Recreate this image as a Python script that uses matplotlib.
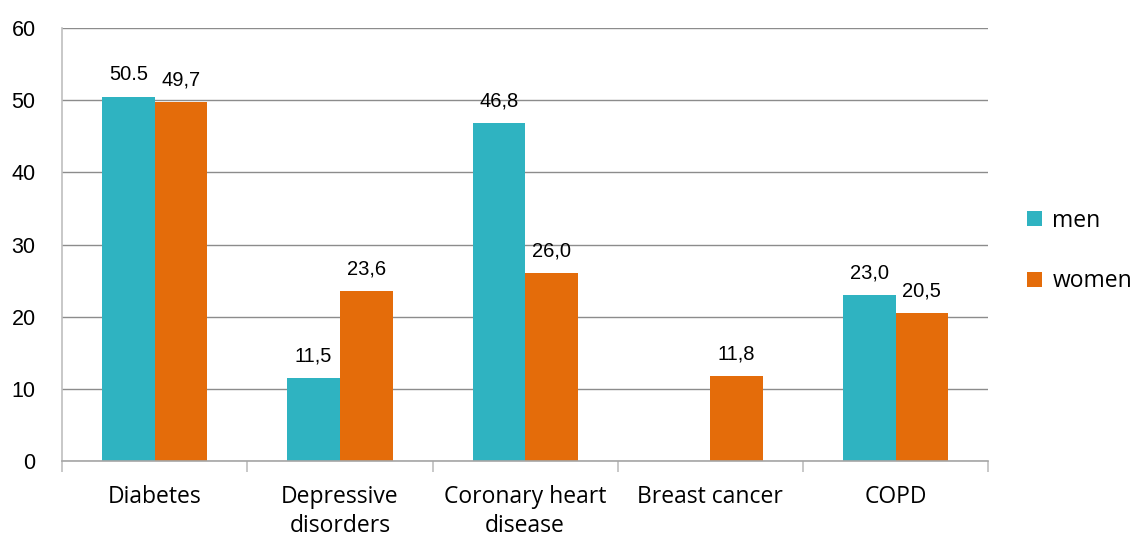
import numpy as np
import matplotlib.pyplot as plt

categories = ['Diabetes', 'Depressive\ndisorders', 'Coronary heart\ndisease', 'Breast cancer', 'COPD']
men = [50.5, 11.5, 46.8, np.nan, 23.0]
women = [49.7, 23.6, 26.0, 11.8, 20.5]
men_labels = ['50.5', '11,5', '46,8', '', '23,0']
women_labels = ['49,7', '23,6', '26,0', '11,8', '20,5']

teal = '#2FB3C1'
orange = '#E46C0A'
grid_col = '#8C8C8C'

fig = plt.figure(figsize=(11.32, 5.39), dpi=100)
ax = fig.add_axes([0.0548, 0.1447, 0.8182, 0.8033])

x = np.arange(len(categories))
w = 0.284
b1 = ax.bar(x - w / 2, np.nan_to_num(men), w, color=teal, label='men')
b2 = ax.bar(x + w / 2, women, w, color=orange, label='women')

# value labels
for xi, v, s in zip(x, men, men_labels):
    if s:
        ax.annotate(s, (xi - w / 2, v), xytext=(0, 9), textcoords='offset points',
                    ha='center', va='bottom', fontsize=14.5, family='Liberation Sans')
for xi, v, s in zip(x, women, women_labels):
    ax.annotate(s, (xi + w / 2, v), xytext=(0, 9), textcoords='offset points',
                ha='center', va='bottom', fontsize=14.5, family='Liberation Sans')

ax.set_xlim(-0.5, len(categories) - 0.5)
ax.set_ylim(0, 60)
ax.set_yticks(range(0, 61, 10))
ax.yaxis.grid(True, color=grid_col, linewidth=1)
ax.set_axisbelow(True)

# tick marks at category boundaries, labels at centres
ax.set_xticks(np.arange(-0.5, len(categories)), minor=False)
ax.set_xticklabels([])
ax.set_xticks(x, minor=True)
ax.set_xticklabels(categories, minor=True, fontsize=16.5, family='Open Sans', linespacing=1.32)
ax.tick_params(axis='x', which='major', length=8, color='#BFBFBF', width=1.2)
ax.tick_params(axis='x', which='minor', length=0, pad=17)
ax.tick_params(axis='y', length=0, pad=19)
for lbl in ax.get_yticklabels():
    lbl.set_fontsize(15.5)
    lbl.set_family('Liberation Sans')

for side in ['top', 'right']:
    ax.spines[side].set_visible(False)
ax.spines['left'].set_color('#BFBFBF')
ax.spines['left'].set_linewidth(1.2)
ax.spines['bottom'].set_color('#A6A6A6')
ax.spines['bottom'].set_linewidth(1.2)

leg = ax.legend(loc='center left', bbox_to_anchor=(1.032, 0.485), frameon=False,
                borderaxespad=0,
                prop={'family': 'Open Sans', 'size': 16.5}, handlelength=0.65, handleheight=0.65,
                handletextpad=0.45, labelspacing=1.6)

plt.savefig('out.png', dpi=100)
